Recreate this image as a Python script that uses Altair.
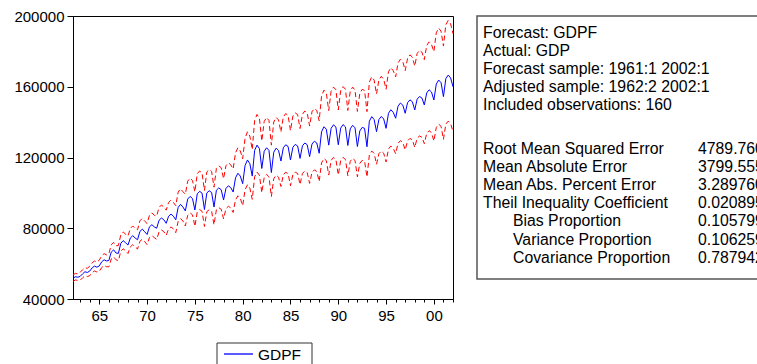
import math
import altair as alt
import pandas as pd

FONT = "Liberation Sans"

# Forecast GDPF, quarterly 1962:2 .. 2002:1 (160 observations)
gdpf = [
    51700, 52600, 52300,                      # 1962 Q2-Q4
    52800, 54200, 55400, 55000,               # 1963
    55800, 57600, 58600, 58000,               # 1964
    58700, 61000, 62200, 61500,               # 1965
    61800, 66500, 67800, 66000,               # 1966
    65800, 71500, 73000, 71800,               # 1967
    70500, 74500, 75800, 74500,               # 1968
    73500, 78200, 79500, 78000,               # 1969
    76500, 80800, 82000, 80800,               # 1970
    80000, 84500, 85800, 84800,               # 1971
    82800, 86800, 88000, 86800,               # 1972
    84800, 91800, 93500, 92000,               # 1973
    89800, 96500, 98000, 96800,               # 1974
    90300, 99500, 100900, 99800,              # 1975
    90600, 100000, 101200, 100200,            # 1976
    92000, 101500, 102800, 101800,            # 1977
    96000, 102500, 104000, 103000,            # 1978
    100500, 108500, 111100, 109500,           # 1979
    105200, 115500, 118600, 116500,           # 1980
    109500, 124000, 127000, 125000,           # 1981
    113800, 123500, 125500, 124000,           # 1982
    111500, 123000, 125300, 124000,           # 1983
    118000, 125500, 127200, 126200,           # 1984
    118600, 125800, 127400, 126500,           # 1985
    119500, 126600, 128200, 127200,           # 1986
    120500, 127600, 129200, 128200,           # 1987
    122400, 134500, 137400, 136000,           # 1988
    127000, 136500, 138500, 137200,           # 1989
    127200, 136600, 138600, 137300,           # 1990
    126800, 136200, 138200, 136800,           # 1991
    126200, 135000, 137000, 136500,           # 1992
    126100, 140500, 143100, 141500,           # 1993
    134600, 141500, 143200, 141800,           # 1994
    136500, 145000, 147000, 145500,           # 1995
    142200, 149000, 150800, 149600,           # 1996
    145000, 151000, 152600, 151500,           # 1997
    146900, 153000, 154500, 153600,           # 1998
    149700, 156500, 158300, 157000,           # 1999
    152500, 161500, 163800, 162300,           # 2000
    154400, 164600, 166600, 165000,           # 2001
    160000,                                   # 2002 Q1
]

# half-width of the +/- 2 S.E. band (log units), per year 1962..2002
band_years = list(range(1962, 2003))
band_halfwidth = [
    0.035, 0.042, 0.048, 0.054, 0.060, 0.065, 0.070, 0.074, 0.078, 0.082,
    0.086, 0.090, 0.100, 0.108, 0.112, 0.115, 0.118, 0.122, 0.126, 0.128,
    0.128, 0.130, 0.130, 0.131, 0.132, 0.134, 0.140, 0.143, 0.144, 0.145,
    0.146, 0.146, 0.147, 0.150, 0.152, 0.154, 0.156, 0.158, 0.165, 0.170,
    0.172,
]

y_ticks = [40000, 80000, 120000, 160000, 200000]
x_ticks = list(range(1963, 2003))

header_lines = [
    "Forecast: GDPF",
    "Actual: GDP",
    "Forecast sample: 1961:1 2002:1",
    "Adjusted sample: 1962:2 2002:1",
    "Included observations: 160",
]
stat_labels = [
    "Root Mean Squared Error",
    "Mean Absolute Error",
    "Mean Abs. Percent Error",
    "Theil Inequality Coefficient",
]
prop_labels = ["Bias Proportion", "Variance Proportion", "Covariance Proportion"]
stat_values = ["4789.760", "3799.555", "3.289760", "0.020895", "0.105799", "0.106259", "0.787942"]
legend_label = "GDPF"

rows = []
for i, v in enumerate(gdpf):
    yr = 1962 + (1 + i) // 4
    q = (1 + i) % 4 + 1
    k = band_halfwidth[band_years.index(yr)]
    rows.append({"t": yr + (q - 1) / 4, "gdpf": v,
                 "upper": v * math.exp(k), "lower": v * math.exp(-k)})
df = pd.DataFrame(rows)

xenc = alt.X(
    "t:Q",
    scale=alt.Scale(domain=[1962.25, 2002.0], nice=False, zero=False),
    axis=alt.Axis(
        values=x_ticks,
        labelExpr="datum.value % 5 == 0 ? substring(toString(datum.value), 2, 4) : ''",
        tickSize={"condition": {"test": "datum.value % 5 == 0", "value": 5}, "value": 3},
        labelPadding=4,
        labelFlush=False,
        labelOverlap=False,
        grid=False,
        title=None,
    ),
)
yscale = alt.Scale(domain=[40000, 200000], nice=False, zero=False)
yaxis = alt.Axis(values=y_ticks, format="d", tickSize=6, labelPadding=3,
                 grid=False, title=None, labelOverlap=False)

base = alt.Chart(df).encode(x=xenc)
upper = base.mark_line(color="#ff0000", strokeWidth=1, strokeDash=[5, 3]).encode(
    y=alt.Y("upper:Q", scale=yscale, axis=yaxis))
lower = base.mark_line(color="#ff0000", strokeWidth=1, strokeDash=[5, 3]).encode(
    y=alt.Y("lower:Q", scale=yscale))
blue = base.mark_line(color="#0000ff", strokeWidth=1).encode(
    y=alt.Y("gdpf:Q", scale=yscale))

one = alt.Data(values=[{"a": 1}])
TS = 15.8


def text_block(lines, x, y, lh, size=TS):
    return alt.Chart(one).mark_text(
        text=lines, align="left", baseline="alphabetic", font=FONT,
        fontSize=size, lineHeight=lh, color="black",
    ).encode(x=alt.value(x), y=alt.value(y))


box = alt.Chart(one).mark_rect(fill="white", fillOpacity=0, stroke="#555555", strokeWidth=1.5).encode(
    x=alt.value(404), x2=alt.value(900), y=alt.value(0), y2=alt.value(263))
hdr = text_block(header_lines, 410, 22, 18)
lab1 = text_block(stat_labels, 410, 137.6, 18.2)
lab2 = text_block(prop_labels, 440, 137.6 + 4 * 18.2, 18.2)
vals = text_block(stat_values, 625, 137.6, 18.2)

leg_box = alt.Chart(one).mark_rect(fill="white", fillOpacity=0, stroke="#333333", strokeWidth=1).encode(
    x=alt.value(144), x2=alt.value(239), y=alt.value(327), y2=alt.value(352))
leg_line = alt.Chart(one).mark_rule(color="#5a5aff", strokeWidth=2).encode(
    x=alt.value(151), x2=alt.value(180), y=alt.value(338))
leg_text = text_block([legend_label], 185, 343.6, 18, 15.5)

chart = alt.layer(
    upper, lower, blue, box, hdr, lab1, lab2, vals, leg_box, leg_line, leg_text
).properties(
    width=380, height=283,
    autosize=alt.AutoSizeParams(type="none"),
    padding={"left": 73, "top": 16, "right": 304, "bottom": 65},
).configure_axis(
    labelFont=FONT, labelFontSize=15, labelColor="black",
    domainColor="black", tickColor="black", domainWidth=1, tickWidth=1,
).configure_view(stroke="black", strokeWidth=1)

chart.save("out.html", embed_options={"renderer": "svg", "actions": False})
